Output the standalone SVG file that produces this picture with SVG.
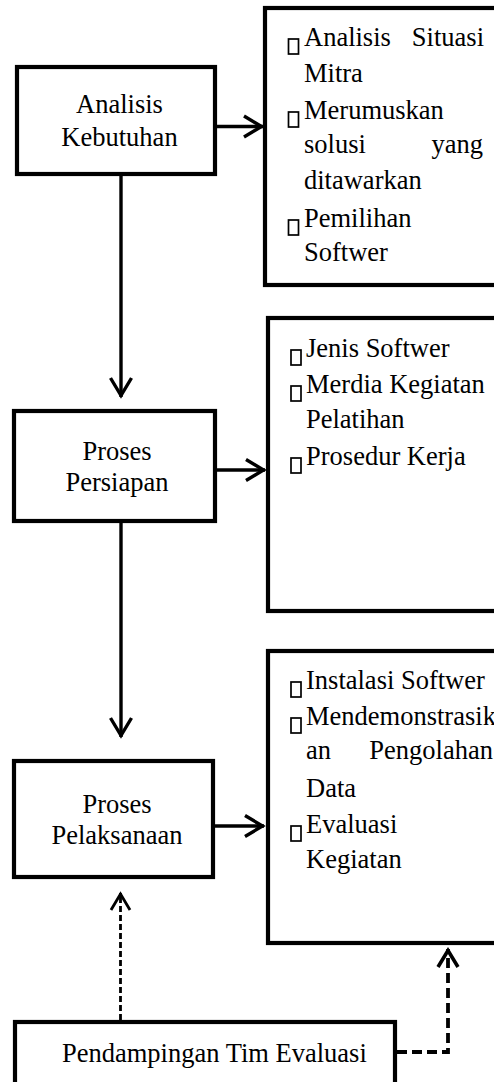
<svg xmlns="http://www.w3.org/2000/svg" width="494" height="1082" viewBox="0 0 494 1082">
<style>
  .box { fill: #fff; stroke: #000; stroke-width: 4.2; }
  .t { font-family: "Liberation Serif", "Times New Roman", serif; font-size: 26.5px; fill: #000; }
  .c { text-anchor: middle; }
  .e { text-anchor: end; }
  .b { fill: none; stroke: #000; stroke-width: 1.7; }
  .ln { fill: none; stroke: #000; stroke-width: 3.4; }
  .d1 { fill: none; stroke: #000; stroke-width: 2.8; stroke-dasharray: 6 3; }
  .d2 { fill: none; stroke: #000; stroke-width: 3.8; stroke-dasharray: 10 5; }
  .h { fill: none; stroke: #000; stroke-linejoin: miter; }
</style>
<defs>
  <marker id="arr" markerUnits="userSpaceOnUse" markerWidth="40" markerHeight="40" viewBox="-30 -20 40 40" refX="0" refY="0" orient="auto" overflow="visible">
    <path class="h" d="M-19,-10.5 L-1.5,0 L-19,10.5" stroke-width="3.4"/>
  </marker>
  <marker id="arrd1" markerUnits="userSpaceOnUse" markerWidth="40" markerHeight="40" viewBox="-30 -20 40 40" refX="0" refY="0" orient="auto" overflow="visible">
    <path class="h" d="M-17,-9.5 L-1,0 L-17,9.5" stroke-width="2.8"/>
  </marker>
  <marker id="arrd2" markerUnits="userSpaceOnUse" markerWidth="40" markerHeight="40" viewBox="-30 -20 40 40" refX="0" refY="0" orient="auto" overflow="visible">
    <path class="h" d="M-18,-10 L-1.5,0 L-18,10" stroke-width="3.6"/>
  </marker>
</defs>

<g id="connectors">
  <line class="ln" x1="217" y1="126.5" x2="263" y2="126.5" marker-end="url(#arr)"/>
  <line class="ln" x1="217" y1="470" x2="265" y2="470" marker-end="url(#arr)"/>
  <line class="ln" x1="215" y1="826" x2="264" y2="826" marker-end="url(#arr)"/>
  <line class="ln" x1="121" y1="176" x2="121" y2="397" marker-end="url(#arr)"/>
  <line class="ln" x1="121" y1="523" x2="121" y2="737" marker-end="url(#arr)"/>
  <line class="d1" x1="120.5" y1="1020" x2="120.5" y2="893" marker-end="url(#arrd1)"/>
  <polyline class="d2" points="397,1052 448,1052 448,949" marker-end="url(#arrd2)"/>
</g>

<g id="node-analisis">
  <rect class="box" x="17" y="67" width="198" height="107"/>
  <text class="t c" x="119.5" y="113">Analisis</text>
  <text class="t c" x="119.5" y="146">Kebutuhan</text>
</g>

<g id="node-analisis-detail">
  <rect class="box" x="265" y="8" width="260" height="277"/>
  <rect class="b" x="288.5" y="39" width="10" height="15"/>
  <text class="t" x="304" y="46">Analisis</text>
  <text class="t e" x="484" y="46">Situasi</text>
  <text class="t" x="304" y="82">Mitra</text>
  <rect class="b" x="288.5" y="112" width="10" height="15"/>
  <text class="t" x="304" y="119">Merumuskan</text>
  <text class="t" x="304" y="153">solusi</text>
  <text class="t e" x="483" y="153">yang</text>
  <text class="t" x="304" y="189">ditawarkan</text>
  <rect class="b" x="288.5" y="220" width="10" height="15"/>
  <text class="t" x="304" y="227">Pemilihan</text>
  <text class="t" x="304" y="261">Softwer</text>
</g>

<g id="node-persiapan">
  <rect class="box" x="14" y="411" width="201" height="110"/>
  <text class="t c" x="117" y="460">Proses</text>
  <text class="t c" x="117" y="491">Persiapan</text>
</g>

<g id="node-persiapan-detail">
  <rect class="box" x="268" y="318" width="260" height="293"/>
  <rect class="b" x="291" y="350" width="10" height="15"/>
  <text class="t" x="306" y="357">Jenis Softwer</text>
  <rect class="b" x="291" y="386" width="10" height="15"/>
  <text class="t" x="306" y="393">Merdia Kegiatan</text>
  <text class="t" x="306" y="428">Pelatihan</text>
  <rect class="b" x="291" y="458" width="10" height="15"/>
  <text class="t" x="306" y="465">Prosedur Kerja</text>
</g>

<g id="node-pelaksanaan">
  <rect class="box" x="14" y="761" width="199" height="116"/>
  <text class="t c" x="117" y="813">Proses</text>
  <text class="t c" x="117" y="844">Pelaksanaan</text>
</g>

<g id="node-pelaksanaan-detail">
  <rect class="box" x="268" y="651" width="260" height="292"/>
  <rect class="b" x="291" y="682" width="10" height="15"/>
  <text class="t" x="306" y="689">Instalasi Softwer</text>
  <rect class="b" x="291" y="718" width="10" height="15"/>
  <text class="t" x="306" y="725">Mendemonstrasik</text>
  <text class="t" x="306" y="759">an</text>
  <text class="t e" x="493" y="759">Pengolahan</text>
  <text class="t" x="306" y="797">Data</text>
  <rect class="b" x="291" y="826" width="10" height="15"/>
  <text class="t" x="306" y="833">Evaluasi</text>
  <text class="t" x="306" y="868">Kegiatan</text>
</g>

<g id="node-pendampingan">
  <rect class="box" x="15" y="1022" width="380" height="80"/>
  <text class="t" x="62" y="1062">Pendampingan Tim Evaluasi</text>
</g>
</svg>
